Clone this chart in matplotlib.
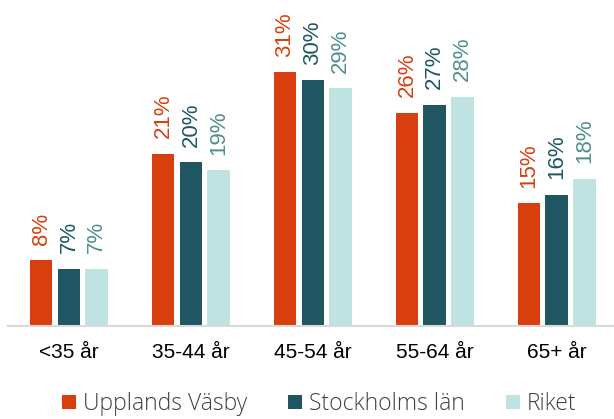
import numpy as np
import matplotlib
matplotlib.use('Agg')
import matplotlib.pyplot as plt

categories = ['<35 år', '35-44 år', '45-54 år', '55-64 år', '65+ år']
series_names = ['Upplands Väsby', 'Stockholms län', 'Riket']
vasby = [8, 21, 31, 26, 15]
stockholm = [7, 20, 30, 27, 16]
riket = [7, 19, 29, 28, 18]

bar_colors = ['#D93F0E', '#1F5661', '#BFE3E0']
label_colors = ['#D93F0E', '#1F5661', '#4F8F8C']

plt.rcParams['font.family'] = ['Liberation Sans', 'DejaVu Sans']

fig = plt.figure(figsize=(6.14, 4.19), dpi=100)
ax = fig.add_axes([0.013, 0.222, 0.987, 0.778])

x = np.arange(len(categories))
width = 0.185
step = 0.228
for i, (name, vals) in enumerate(zip(series_names, [vasby, stockholm, riket])):
    pos = x + (i - 1) * step
    ax.bar(pos, vals, width, color=bar_colors[i], label=name)
    for p, v in zip(pos, vals):
        ax.text(p, v + 1.9, f'{v}%', rotation=90, ha='center', va='bottom',
                fontsize=16, color=label_colors[i])

ax.set_xlim(-0.5, 4.47)
ax.set_ylim(0, 39.8)
ax.set_yticks([])
ax.set_xticks(x)
ax.set_xticklabels(categories, fontsize=15)
ax.tick_params(axis='x', length=0, pad=12)
for s in ['top', 'right', 'left']:
    ax.spines[s].set_visible(False)
ax.spines['bottom'].set_color('#D9D9D9')
ax.spines['bottom'].set_linewidth(1.5)

leg = fig.legend(loc='center', bbox_to_anchor=(0.520, 0.036), ncol=3,
                 frameon=False, handlelength=0.6, handleheight=0.6,
                 handletextpad=0.3, columnspacing=1.8, borderpad=0,
                 labelcolor='#404040',
                 prop={'family': 'Open Sans', 'weight': 'light', 'size': 16.5})

fig.savefig('out.png', dpi=100)
